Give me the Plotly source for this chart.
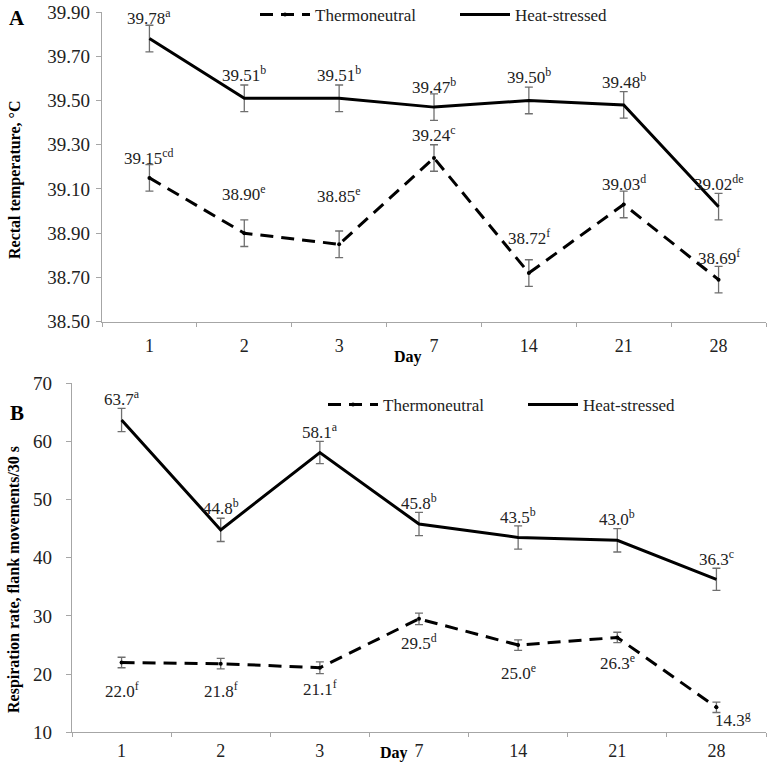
import plotly.graph_objects as go

# ---------------- data ----------------
days = ["1", "2", "3", "7", "14", "21", "28"]

# Panel A: rectal temperature, °C
rt_thermo = [39.15, 38.90, 38.85, 39.24, 38.72, 39.03, 38.69]
rt_thermo_err = [0.06, 0.06, 0.06, 0.06, 0.06, 0.06, 0.06]
rt_thermo_sig = ["cd", "e", "e", "c", "f", "d", "f"]
rt_heat = [39.78, 39.51, 39.51, 39.47, 39.50, 39.48, 39.02]
rt_heat_err = [0.06, 0.06, 0.06, 0.06, 0.06, 0.06, 0.06]
rt_heat_sig = ["a", "b", "b", "b", "b", "b", "de"]

# Panel B: respiration rate, flank movements/30 s
rr_thermo = [22.0, 21.8, 21.1, 29.5, 25.0, 26.3, 14.3]
rr_thermo_err = [0.9, 0.9, 1.0, 1.0, 0.9, 0.9, 0.9]
rr_thermo_sig = ["f", "f", "f", "d", "e", "e", "g"]
rr_heat = [63.7, 44.8, 58.1, 45.8, 43.5, 43.0, 36.3]
rr_heat_err = [2.0, 2.0, 1.9, 2.0, 2.0, 2.0, 1.9]
rr_heat_sig = ["a", "b", "a", "b", "b", "b", "c"]

# label offsets (pixels, relative to point) -- styling only
rt_heat_dy = [22, 24, 24, 21, 24, 24, 24]
rt_thermo_dy = [21, 40, 49, 24, 36, 21, 23]
rr_heat_dy = [22, 23, 22, 22, 21, 22, 21]
rr_thermo_dy = [-27, -26, -20, -23, -27, -25, -12]
rr_thermo_dx = [0, 0, 0, 0, 0, 0, 17]

W, H = 769, 772
FONT = "Liberation Serif, Times New Roman, serif"
AXC = "#a6a6a6"
ERRC = "#6f6f6f"


def fx(px):
    return px / W


def fy(py):
    return 1 - py / H


fig = go.Figure()

# ---- Panel A traces ----
fig.add_trace(go.Scatter(
    x=days, y=rt_thermo, name="Thermoneutral", mode="lines+markers",
    line=dict(color="black", width=3, dash="13px,8px"),
    marker=dict(color="black", size=4),
    error_y=dict(type="data", array=rt_thermo_err, color=ERRC, thickness=1.3, width=4),
    xaxis="x", yaxis="y", legend="legend",
))
fig.add_trace(go.Scatter(
    x=days, y=rt_heat, name="Heat-stressed", mode="lines",
    line=dict(color="black", width=3),
    error_y=dict(type="data", array=rt_heat_err, color=ERRC, thickness=1.3, width=4),
    xaxis="x", yaxis="y", legend="legend2",
))

# ---- Panel B traces ----
fig.add_trace(go.Scatter(
    x=days, y=rr_thermo, name="Thermoneutral", mode="lines+markers",
    line=dict(color="black", width=3, dash="13px,8px"),
    marker=dict(color="black", size=4),
    error_y=dict(type="data", array=rr_thermo_err, color=ERRC, thickness=1.3, width=4),
    xaxis="x2", yaxis="y2", legend="legend3",
))
fig.add_trace(go.Scatter(
    x=days, y=rr_heat, name="Heat-stressed", mode="lines",
    line=dict(color="black", width=3),
    error_y=dict(type="data", array=rr_heat_err, color=ERRC, thickness=1.3, width=4),
    xaxis="x2", yaxis="y2", legend="legend4",
))

annotations = []


def add_labels(xref, yref, vals, sigs, dys, fmt, dxs=None, size=17):
    # category axis: annotations positioned by category index
    for i, (v, s, dy) in enumerate(zip(vals, sigs, dys)):
        annotations.append(dict(
            x=i, y=v, xref=xref, yref=yref, showarrow=False,
            text=f"{v:{fmt}}<sup>{s}</sup>", yshift=dy,
            xshift=(dxs[i] if dxs else 0),
            xanchor="center", yanchor="middle",
            font=dict(family=FONT, size=size, color="#222"),
        ))


add_labels("x", "y", rt_heat, rt_heat_sig, rt_heat_dy, ".2f")
add_labels("x", "y", rt_thermo, rt_thermo_sig, rt_thermo_dy, ".2f")
add_labels("x2", "y2", rr_heat, rr_heat_sig, rr_heat_dy, ".1f")
add_labels("x2", "y2", rr_thermo, rr_thermo_sig, rr_thermo_dy, ".1f", rr_thermo_dx)

# panel letters, axis titles
annotations += [
    dict(x=fx(17), y=fy(18), xref="paper", yref="paper", text="<b>A</b>", showarrow=False,
         font=dict(family=FONT, size=21, color="black"), xanchor="center", yanchor="middle"),
    dict(x=fx(17), y=fy(413), xref="paper", yref="paper", text="<b>B</b>", showarrow=False,
         font=dict(family=FONT, size=21, color="black"), xanchor="center", yanchor="middle"),
    dict(x=fx(15), y=fy(180), xref="paper", yref="paper", text="<b>Rectal temperature, °C</b>",
         showarrow=False, textangle=-90, font=dict(family=FONT, size=16, color="black"),
         xanchor="center", yanchor="middle"),
    dict(x=fx(14), y=fy(580), xref="paper", yref="paper",
         text="<b>Respiration rate, flank movements/30 s</b>",
         showarrow=False, textangle=-90, font=dict(family=FONT, size=16, color="black"),
         xanchor="center", yanchor="middle"),
    dict(x=fx(408), y=fy(357), xref="paper", yref="paper", text="<b>Day</b>", showarrow=False,
         font=dict(family=FONT, size=16, color="black"), xanchor="center", yanchor="middle"),
    dict(x=fx(394), y=fy(753), xref="paper", yref="paper", text="<b>Day</b>", showarrow=False,
         font=dict(family=FONT, size=16, color="black"), xanchor="center", yanchor="middle"),
]

xcommon = dict(type="category", categoryorder="array", categoryarray=days,
               range=[-0.5, 6.5], autorange=False, tickangle=0, automargin=False,
               showline=True, linecolor=AXC, linewidth=1.3, ticks="outside", tickson="boundaries",
               ticklen=4, tickcolor=AXC, showgrid=False, zeroline=False,
               tickfont=dict(family=FONT, size=18, color="#222"))
ycommon = dict(showline=True, linecolor=AXC, linewidth=1.3, ticks="outside", ticklen=5,
               tickcolor=AXC, showgrid=False, zeroline=False, autorange=False, automargin=False,
               tickfont=dict(family=FONT, size=19, color="#222"))

legcommon = dict(orientation="h", xanchor="left", yanchor="middle", itemwidth=50,
                 bgcolor="rgba(0,0,0,0)", borderwidth=0,
                 font=dict(family=FONT, size=17, color="#222"))

fig.update_layout(
    width=W, height=H, margin=dict(l=0, r=0, t=0, b=0, autoexpand=False),
    paper_bgcolor="white", plot_bgcolor="white",
    font=dict(family=FONT, color="#222"),
    xaxis=dict(domain=[fx(102), fx(766)], anchor="y", ticklabelstandoff=8, **xcommon),
    yaxis=dict(domain=[fy(321.7), fy(12)], anchor="x", range=[38.5, 39.9], dtick=0.2,
               tick0=38.5, tickformat=".2f", ticklabelstandoff=2, **ycommon),
    xaxis2=dict(domain=[fx(72), fx(766)], anchor="y2", ticklabelstandoff=2, **xcommon),
    yaxis2=dict(domain=[fy(732.3), fy(383.3)], anchor="x2", range=[10, 70], dtick=10,
                ticklabelstandoff=10, **ycommon),
    legend=dict(x=fx(255), y=fy(15), **legcommon),
    legend2=dict(x=fx(455), y=fy(15), **legcommon),
    legend3=dict(x=fx(323), y=fy(405), **legcommon),
    legend4=dict(x=fx(523), y=fy(405), **legcommon),
    annotations=annotations,
    showlegend=True,
)

# remove the browser's default 8px page margin so the figure fills the window
fig.write_html("out.html",
               config={"displayModeBar": False},
               post_script="document.body.style.margin='0';document.body.style.overflow='hidden';")
